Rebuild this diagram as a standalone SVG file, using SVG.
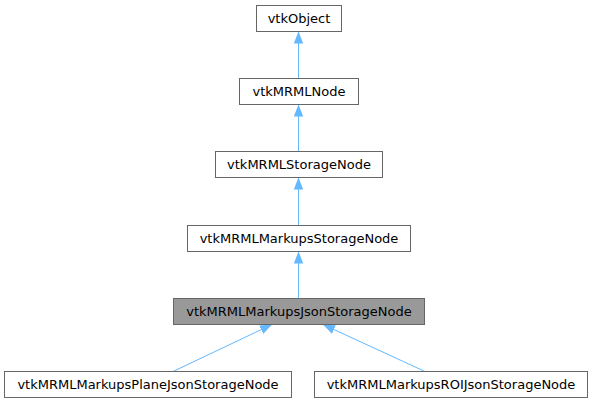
<svg xmlns="http://www.w3.org/2000/svg" width="592" height="403" viewBox="0 0 592 403">
<style>
.box{fill:#ffffff;stroke:#666666;stroke-width:1}
.hl{fill:#999999;stroke:#666666;stroke-width:1}
.lbl{font-family:"DejaVu Sans",sans-serif;font-size:13px;fill:#000000;text-anchor:middle}
.edge{stroke:#63b8ff;stroke-width:1;fill:none}
</style>
<defs>
<marker id="ah" viewBox="0 0 12 10" refX="12" refY="5" markerWidth="12" markerHeight="10" markerUnits="userSpaceOnUse" orient="auto">
<path d="M0,0.3 L12,5 L0,9.7 z" fill="#63b8ff"/>
</marker>
</defs>
<g id="edges">
<path class="edge" d="M298.5,78 L298.5,31.5" marker-end="url(#ah)"/>
<path class="edge" d="M298.5,152 L298.5,104.5" marker-end="url(#ah)"/>
<path class="edge" d="M298.5,225 L298.5,177.5" marker-end="url(#ah)"/>
<path class="edge" d="M298.5,298 L298.5,251.5" marker-end="url(#ah)"/>
<path class="edge" d="M173,371.5 L272,324.5" marker-end="url(#ah)"/>
<path class="edge" d="M425,371.5 L323,324.5" marker-end="url(#ah)"/>
</g>
<g id="vtkObject">
<rect class="box" x="256.5" y="5.5" width="85" height="26"/>
<text class="lbl" x="299" y="23">vtkObject</text>
</g>
<g id="vtkMRMLNode">
<rect class="box" x="239.5" y="78.5" width="119" height="26"/>
<text class="lbl" x="299" y="96">vtkMRMLNode</text>
</g>
<g id="vtkMRMLStorageNode">
<rect class="box" x="215.5" y="151.5" width="167" height="26"/>
<text class="lbl" x="299" y="169">vtkMRMLStorageNode</text>
</g>
<g id="vtkMRMLMarkupsStorageNode">
<rect class="box" x="187.5" y="225.5" width="223" height="26"/>
<text class="lbl" x="299" y="243">vtkMRMLMarkupsStorageNode</text>
</g>
<g id="vtkMRMLMarkupsJsonStorageNode">
<rect class="hl" x="173.5" y="298.5" width="251" height="26"/>
<text class="lbl" x="299" y="316">vtkMRMLMarkupsJsonStorageNode</text>
</g>
<g id="vtkMRMLMarkupsPlaneJsonStorageNode">
<rect class="box" x="4.5" y="371.5" width="287" height="26"/>
<text class="lbl" x="148" y="389">vtkMRMLMarkupsPlaneJsonStorageNode</text>
</g>
<g id="vtkMRMLMarkupsROIJsonStorageNode">
<rect class="box" x="314.5" y="371.5" width="273" height="26"/>
<text class="lbl" x="451" y="389">vtkMRMLMarkupsROIJsonStorageNode</text>
</g>
</svg>
